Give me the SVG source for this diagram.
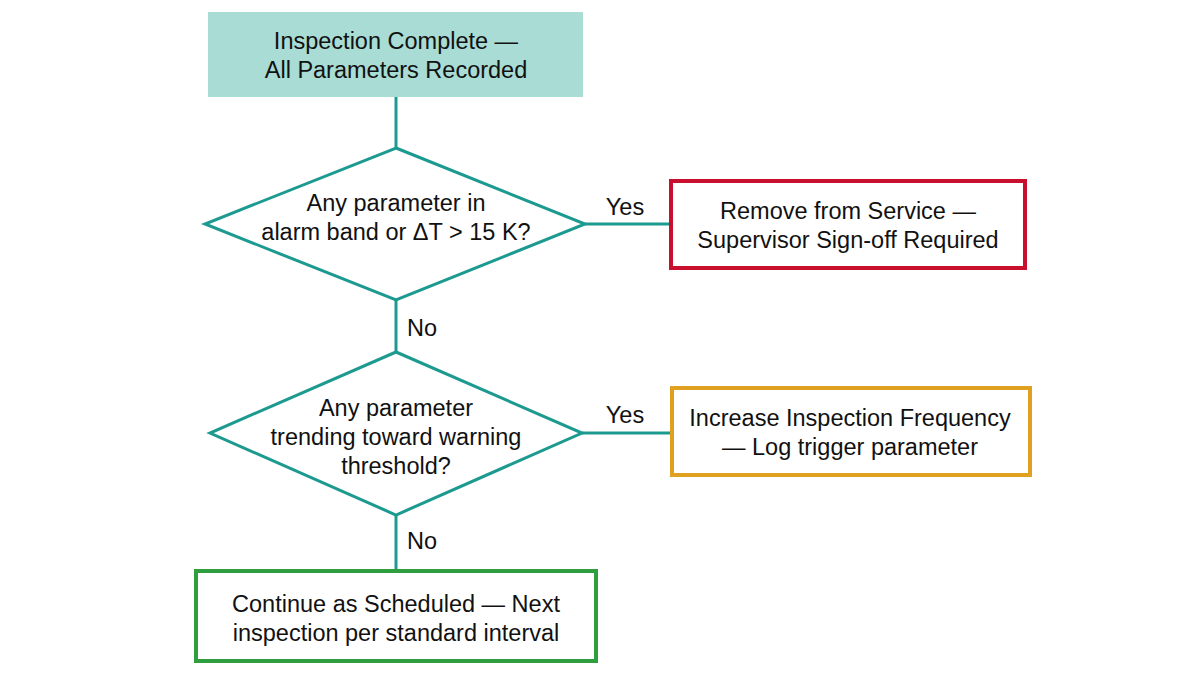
<svg xmlns="http://www.w3.org/2000/svg" width="1200" height="675" viewBox="0 0 1200 675">
<style>
text{font-family:"Liberation Sans",Arial,sans-serif;font-size:23.5px;fill:#111;text-anchor:middle}
.c{stroke:#1c9a90;stroke-width:3;fill:none}
.d{stroke:#1c9a90;stroke-width:3;fill:#fff}
.b{fill:#fff;stroke-width:4}
</style>
<rect width="1200" height="675" fill="#fff"/>
<g id="connectors">
<line class="c" x1="396" y1="97" x2="396" y2="148"/>
<line class="c" x1="585" y1="224" x2="671" y2="224"/>
<line class="c" x1="396" y1="300" x2="396" y2="352"/>
<line class="c" x1="582" y1="433" x2="672" y2="433"/>
<line class="c" x1="396" y1="515" x2="396" y2="571"/>
<text x="625" y="215">Yes</text>
<text x="422" y="336">No</text>
<text x="625" y="423">Yes</text>
<text x="422" y="549">No</text>
</g>
<g id="start">
<rect x="208" y="12" width="375" height="85" fill="#a8dcd5"/>
<text x="396" y="49">Inspection Complete —</text>
<text x="396" y="78">All Parameters Recorded</text>
</g>
<g id="decision1">
<polygon class="d" points="396,148 585,224 396,300 205,224"/>
<text x="396" y="211">Any parameter in</text>
<text x="396" y="240">alarm band or ΔT &gt; 15 K?</text>
</g>
<g id="remove">
<rect class="b" x="671" y="181" width="354" height="87" stroke="#c8102e"/>
<text x="848" y="219">Remove from Service —</text>
<text x="848" y="248">Supervisor Sign-off Required</text>
</g>
<g id="decision2">
<polygon class="d" points="396,352 582,433 396,515 210,433"/>
<text x="396" y="416">Any parameter</text>
<text x="396" y="445">trending toward warning</text>
<text x="396" y="474">threshold?</text>
</g>
<g id="increase">
<rect class="b" x="672" y="388" width="358" height="87" stroke="#e0a020"/>
<text x="850" y="426">Increase Inspection Frequency</text>
<text x="850" y="455">— Log trigger parameter</text>
</g>
<g id="continue">
<rect class="b" x="196" y="571" width="400" height="90" stroke="#2e9e3e"/>
<text x="396" y="612">Continue as Scheduled — Next</text>
<text x="396" y="641">inspection per standard interval</text>
</g>
</svg>
